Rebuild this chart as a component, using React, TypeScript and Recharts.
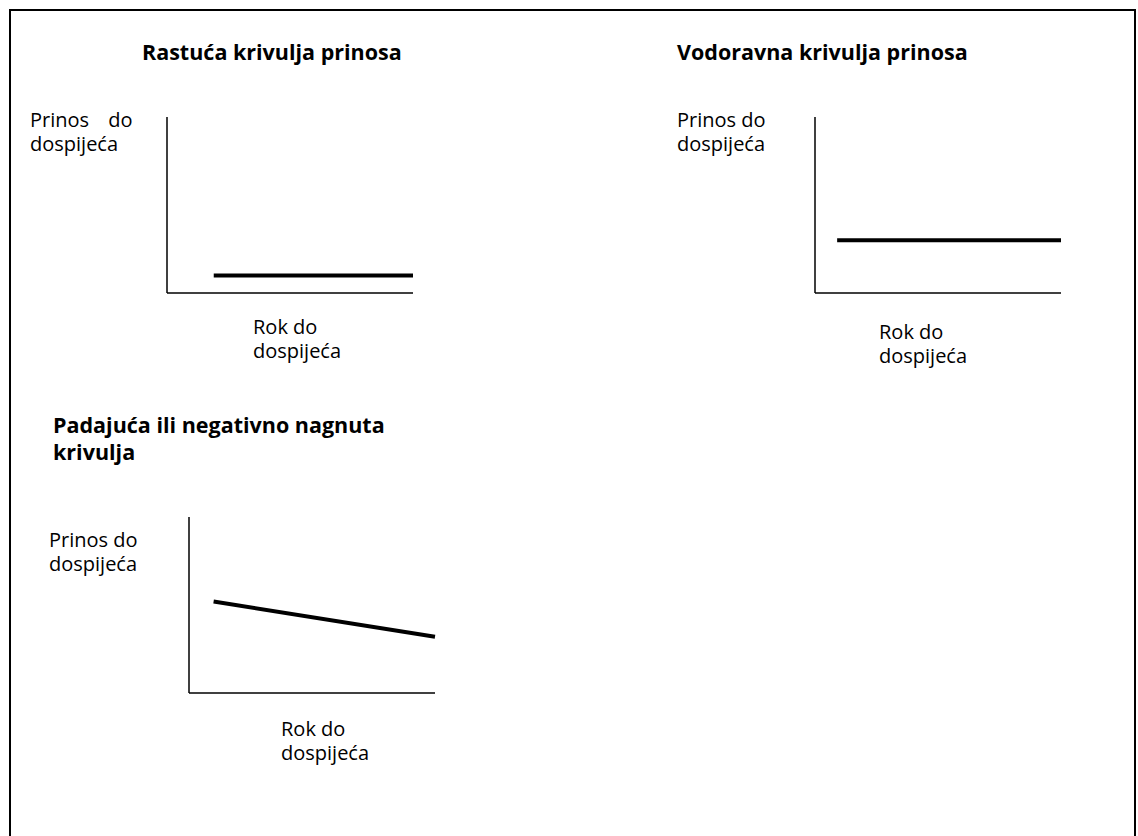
import { LineChart, Line, XAxis, YAxis } from 'recharts'

// rok do dospijeća (x) i prinos (y), očitano sa slike, skala 0-10
const risingX = [1.9, 10]
const risingY = [1.0, 1.0]
const flatX = [0.9, 10]
const flatY = [3.0, 3.0]
const fallingX = [1.0, 10]
const fallingY = [5.2, 3.2]

const yLabel = 'Prinos do\ndospijeća'
const xLabel = 'Rok do\ndospijeća'

const font = '"Open Sans", "Noto Sans", sans-serif'

function toRows(xs: number[], ys: number[]) {
  return xs.map((x, i) => ({ x, y: ys[i] }))
}

function Curve({ data, left, top }: { data: { x: number; y: number }[]; left: number; top: number }) {
  return (
    <div style={{ position: 'absolute', left, top }}>
      <LineChart width={249} height={179} data={data} margin={{ top: 2, right: 2, left: 0, bottom: 0 }}>
        <XAxis
          dataKey="x"
          type="number"
          domain={[0, 10]}
          height={1}
          tick={false}
          tickLine={false}
          axisLine={{ stroke: '#000', strokeWidth: 1.5 }}
        />
        <YAxis
          type="number"
          domain={[0, 10]}
          width={1}
          tick={false}
          tickLine={false}
          axisLine={{ stroke: '#000', strokeWidth: 1.5 }}
        />
        <Line
          type="linear"
          dataKey="y"
          stroke="#000"
          strokeWidth={4}
          strokeLinecap="butt"
          dot={false}
          isAnimationActive={false}
        />
      </LineChart>
    </div>
  )
}

function Text({ text, left, top, bold, size, lh, wordSpacing }: any) {
  return (
    <div
      style={{
        position: 'absolute',
        left,
        top,
        fontFamily: font,
        fontSize: size,
        lineHeight: lh + 'px',
        fontWeight: bold ? 700 : 400,
        whiteSpace: 'pre-line',
        wordSpacing,
        color: '#000',
      }}
    >
      {text}
    </div>
  )
}

export default function App() {
  return (
    <div style={{ position: 'absolute', left: 0, top: 0, width: 1138, height: 836, background: '#fff', overflow: 'hidden' }}>
      <div
        style={{
          position: 'absolute',
          left: 9,
          top: 9,
          width: 1127,
          height: 840,
          border: '2px solid #000',
          boxSizing: 'border-box',
        }}
      />

      <Text text="Rastuća krivulja prinosa" left={142} top={38} bold size={21.5} lh={27} />
      <Text text={yLabel} left={30} top={108} size={20} lh={24} wordSpacing={14} />
      <Curve data={toRows(risingX, risingY)} left={166} top={115} />
      <Text text={xLabel} left={253} top={315} size={20} lh={24} />

      <Text text="Vodoravna krivulja prinosa" left={677} top={38} bold size={21.5} lh={27} />
      <Text text={yLabel} left={677} top={108} size={20} lh={24} />
      <Curve data={toRows(flatX, flatY)} left={814} top={115} />
      <Text text={xLabel} left={879} top={320} size={20} lh={24} />

      <Text text={'Padajuća ili negativno nagnuta\nkrivulja'} left={53} top={411} bold size={21.5} lh={27} />
      <Text text={yLabel} left={49} top={528} size={20} lh={24} />
      <Curve data={toRows(fallingX, fallingY)} left={188} top={515} />
      <Text text={xLabel} left={281} top={717} size={20} lh={24} />
    </div>
  )
}
